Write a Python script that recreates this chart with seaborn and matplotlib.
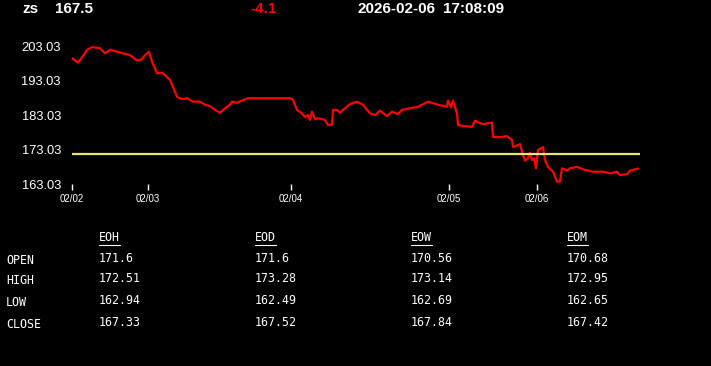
import matplotlib
matplotlib.use("Agg")
import matplotlib.pyplot as plt
import seaborn as sns
import pandas as pd
from matplotlib.lines import Line2D

# ---------------- data ----------------
symbol = "zs"
last_price = "167.5"
change = "-4.1"
date_str = "2026-02-06"
time_str = "17:08:09"

x_idx = [0, 6, 13, 15, 20, 28, 33, 38, 45, 51, 58, 65, 70, 73, 77, 80, 85, 90, 93, 98,
         105, 110, 115, 121, 128, 133, 138, 143, 148, 153, 158, 160, 165, 170, 176, 188,
         205, 218, 221, 225, 230, 233, 236, 238, 240, 243, 246, 253, 256, 260, 261, 265,
         268, 273, 278, 285, 291, 298, 303, 308, 315, 320, 326, 330, 338, 346, 356, 366,
         375, 376, 379, 381, 385, 386, 393, 400, 403, 410, 420, 421, 428, 435, 440, 441,
         446, 448, 451, 453, 456, 458, 460, 462, 464, 466, 471, 473, 476, 481, 485, 488,
         490, 495, 498, 505, 513, 521, 531, 538, 545, 548, 555, 558, 566]
price = [199.5, 198.2, 200.9, 201.9, 202.7, 202.4, 200.9, 201.9, 201.4, 200.9, 200.4, 198.8,
         199.2, 200.4, 201.4, 198.5, 195.1, 195.3, 194.6, 193.2, 188.3, 187.6, 187.9, 186.9,
         186.9, 186.0, 185.6, 184.5, 183.7, 185.0, 186.0, 186.9, 186.6, 187.2, 187.9, 187.9,
         187.9, 187.9, 187.4, 184.5, 183.5, 182.4, 183.0, 181.6, 184.0, 181.8, 182.1, 181.6,
         180.1, 180.3, 184.5, 184.5, 183.7, 185.0, 186.2, 186.9, 186.0, 183.5, 183.0, 184.3,
         182.7, 184.0, 183.3, 184.5, 185.0, 185.4, 186.9, 186.0, 185.4, 187.2, 185.3, 187.2,
         183.5, 180.1, 179.8, 179.6, 181.4, 180.4, 180.8, 176.7, 176.6, 176.9, 175.8, 173.8,
         174.3, 174.6, 171.4, 169.8, 170.5, 172.1, 170.0, 170.5, 167.6, 172.9, 173.7, 170.0,
         168.0, 166.6, 163.7, 163.8, 167.6, 166.9, 167.6, 168.0, 167.1, 166.6, 166.6, 166.1,
         166.6, 165.6, 165.9, 166.9, 167.5]
ref_open = 171.6

tick_pos = [0, 76, 219, 377, 465]
tick_labels = ["02/02", "02/03", "02/04", "02/05", "02/06"]
y_ticks = [163.03, 173.03, 183.03, 193.03, 203.03]

col_heads = ["EOH", "EOD", "EOW", "EOM"]
row_heads = ["OPEN", "HIGH", "LOW", "CLOSE"]
eoh = ["171.6", "172.51", "162.94", "167.33"]
eod = ["171.6", "173.28", "162.49", "167.52"]
eow = ["170.56", "173.14", "162.69", "167.84"]
eom = ["170.68", "172.95", "162.65", "167.42"]

# ---------------- figure ----------------
sns.set_theme(style="dark", rc={
    "axes.facecolor": "black", "figure.facecolor": "black",
    "axes.edgecolor": "black", "axes.grid": False,
})
plt.rcParams["font.family"] = ["Liberation Sans", "DejaVu Sans"]

W, H = 711, 366
fig = plt.figure(figsize=(W / 100, H / 100), dpi=100)
ax = fig.add_axes([72 / W, 1 - 184 / H, 568 / W, 144 / H])
ax.set_facecolor("black")

df = pd.DataFrame({"x": x_idx, "price": price})
sns.lineplot(data=df, x="x", y="price", ax=ax, color="#ff0000", linewidth=1.6)
ax.axhline(ref_open, color="#e3ea6e", linewidth=1.6)

ax.set_xlim(0, 568)
ax.set_ylim(163.03, 204.77)
ax.set_xticks(tick_pos)
ax.set_xticklabels(tick_labels)
ax.set_yticks(y_ticks)
ax.set_yticklabels([f"{v:.2f}" for v in y_ticks])
ax.tick_params(axis="x", colors="white", length=4, width=1, direction="out",
               labelsize=7, pad=3, bottom=True)
ax.tick_params(axis="y", colors="white", length=0, labelsize=9.3, pad=8)
ax.set_xlabel("")
ax.set_ylabel("")
for s in ax.spines.values():
    s.set_visible(False)

def px(x, y):
    return x / W, 1 - y / H

# header
hdr = dict(fontsize=11, fontweight="bold", va="center", ha="left")
fig.text(*px(22, 9), symbol, color="white", **hdr)
fig.text(*px(55, 9), last_price, color="white", **hdr)
fig.text(*px(250, 9), change, color="#ff0000", **hdr)
fig.text(*px(357, 9), date_str, color="white", **hdr)
fig.text(*px(443, 9), time_str, color="white", **hdr)

# table
mono = dict(family="DejaVu Sans Mono", fontsize=8.4, color="white", va="center", ha="left")
col_x = [99, 255, 411, 567]
row_y = [259, 280, 301, 324]
heads = []
for cx, h in zip(col_x, col_heads):
    heads.append(fig.text(*px(cx, 238), h, **mono))
for ry, r in zip(row_y, row_heads):
    fig.text(*px(6, ry + 1), r, **mono)
for cx, col in zip(col_x, [eoh, eod, eow, eom]):
    for ry, v in zip(row_y, col):
        fig.text(*px(cx, ry - 1), v, **mono)

fig.canvas.draw()
r = fig.canvas.get_renderer()
for t in heads:
    bb = t.get_window_extent(r)
    yy = (bb.y0 - 0.5) / H
    fig.add_artist(Line2D([bb.x0 / W, bb.x1 / W], [yy, yy], color="white",
                          linewidth=0.8, transform=fig.transFigure))

fig.savefig("out.png", dpi=100, facecolor="black")
